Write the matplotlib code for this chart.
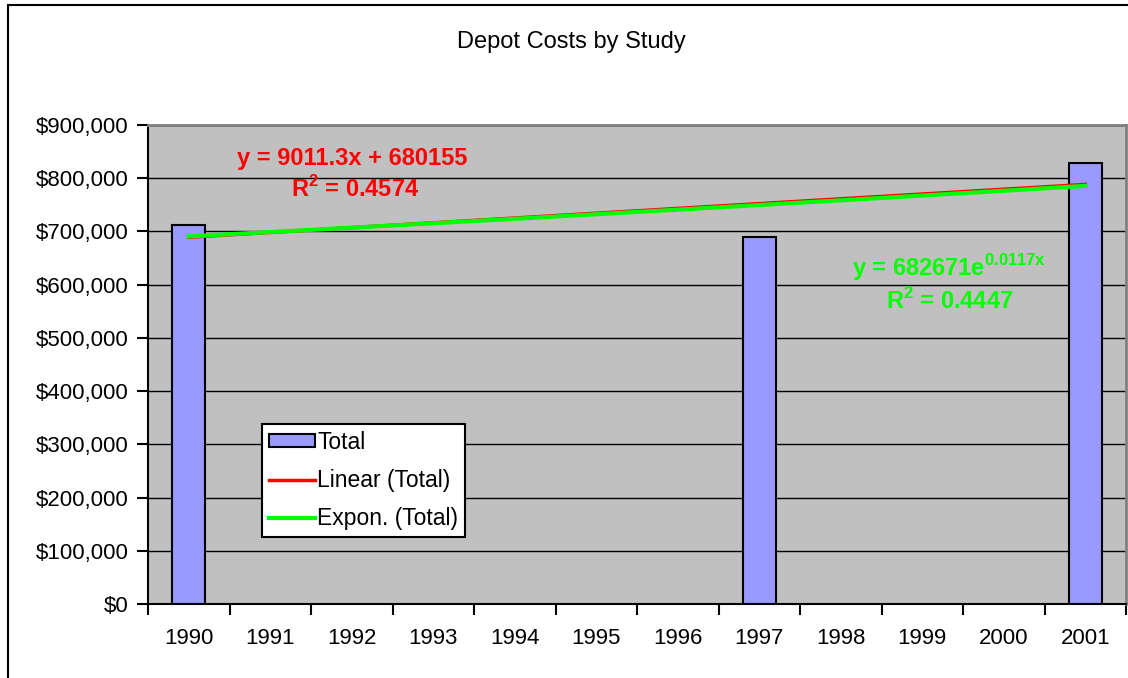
#!/usr/bin/env python3

import numpy as np
import matplotlib.pyplot as plt
from matplotlib.patches import Rectangle
from matplotlib.ticker import FuncFormatter

plt.rcParams["font.family"] = ["Liberation Sans", "DejaVu Sans"]

# Data.
years = ["1990", "1991", "1992", "1993", "1994", "1995",
         "1996", "1997", "1998", "1999", "2000", "2001"]
study_years = ["1990", "1997", "2001"]
study_costs = [711800, 689900, 828000]

# Trendline coefficients shown on the chart.
lin_slope = 9011.3
lin_icpt = 680155
exp_a = 682671
exp_b = 0.0117

W, H = 1128, 678


def main():
    fig = plt.figure(figsize=(W / 100, H / 100), dpi=100)
    ax = fig.add_axes([148 / W, 1 - 604 / H, (1126 - 148) / W, (604 - 125) / H])
    ax.set_facecolor("#C0C0C0")

    # Outer chart frame (right and bottom edges run off the picture).
    fig.patches.append(Rectangle((8 / W, -0.1), 1.2, 1 - 5 / H + 0.1,
                                 transform=fig.transFigure, fill=False,
                                 edgecolor="black", linewidth=1.5))

    idx = np.arange(len(years))
    bar_x = [years.index(y) for y in study_years]
    ax.bar(bar_x, study_costs, width=0.4, color="#9999FF",
           edgecolor="black", linewidth=1.5, zorder=3, label="Total")

    # Trendlines, x = 1..12 as in the spreadsheet.
    xs = idx + 1
    ax.plot(idx, lin_slope * xs + lin_icpt, color="#FF0000",
            linewidth=2.5, zorder=4, label="Linear (Total)")
    ax.plot(idx, exp_a * np.exp(exp_b * xs), color="#00FF00",
            linewidth=3, zorder=5, label="Expon. (Total)")

    ax.set_xlim(-0.5, len(years) - 0.5)
    ax.set_ylim(0, 900000)
    ax.set_yticks(np.arange(0, 900001, 100000))
    ax.yaxis.set_major_formatter(FuncFormatter(lambda v, p: f"${v:,.0f}"))
    ax.grid(axis="y", color="black", linewidth=1, zorder=1)

    # Category axis: ticks between categories, labels at centres.
    ax.set_xticks(np.arange(-0.5, len(years)), [""] * (len(years) + 1))
    ax.set_xticks(idx, years, minor=True)
    ax.tick_params(axis="x", which="major", length=8, width=1.5,
                   direction="out", color="black")
    ax.tick_params(axis="x", which="minor", length=0, pad=17,
                   labelsize=16)
    ax.tick_params(axis="y", length=8, width=1.5, direction="out",
                   labelsize=16, pad=6)

    ax.spines["left"].set_linewidth(1.5)
    ax.spines["bottom"].set_linewidth(1.5)
    for s in ["top", "right"]:
        ax.spines[s].set_color("#808080")
        ax.spines[s].set_linewidth(2)

    fig.text(571 / W, 1 - 42 / H, "Depot Costs by Study", ha="center",
             va="center", fontsize=17)

    # Trendline equations.
    red = dict(color="#FF0000", fontsize=17, fontweight="bold",
               ha="center", va="center")
    grn = dict(color="#00FF00", fontsize=17, fontweight="bold",
               ha="center", va="center")
    fig.text(352 / W, 1 - 158 / H, "y = 9011.3x + 680155", **red)
    fig.text(355 / W, 1 - 189 / H, r"R$^\mathregular{2}$ = 0.4574", **red)
    fig.text(949 / W, 1 - 268 / H,
             r"y = 682671e$^\mathregular{0.0117x}$", **grn)
    fig.text(950 / W, 1 - 301 / H, r"R$^\mathregular{2}$ = 0.4447", **grn)

    handles, labels = ax.get_legend_handles_labels()
    order = [labels.index("Total"), labels.index("Linear (Total)"),
             labels.index("Expon. (Total)")]
    leg = ax.legend([handles[i] for i in order], [labels[i] for i in order],
                    loc="upper left",
                    bbox_to_anchor=((262 - 148) / (1126 - 148),
                                    (604 - 424) / (604 - 125)),
                    fontsize=16.5, frameon=True, fancybox=False,
                    framealpha=1, edgecolor="black", handlelength=2.0,
                    handleheight=0.5, handletextpad=0.1, borderpad=0.3,
                    labelspacing=0.66, borderaxespad=0)
    leg.get_frame().set_linewidth(1.5)

    fig.savefig("out.png", dpi=100)


if __name__ == "__main__":
    main()
